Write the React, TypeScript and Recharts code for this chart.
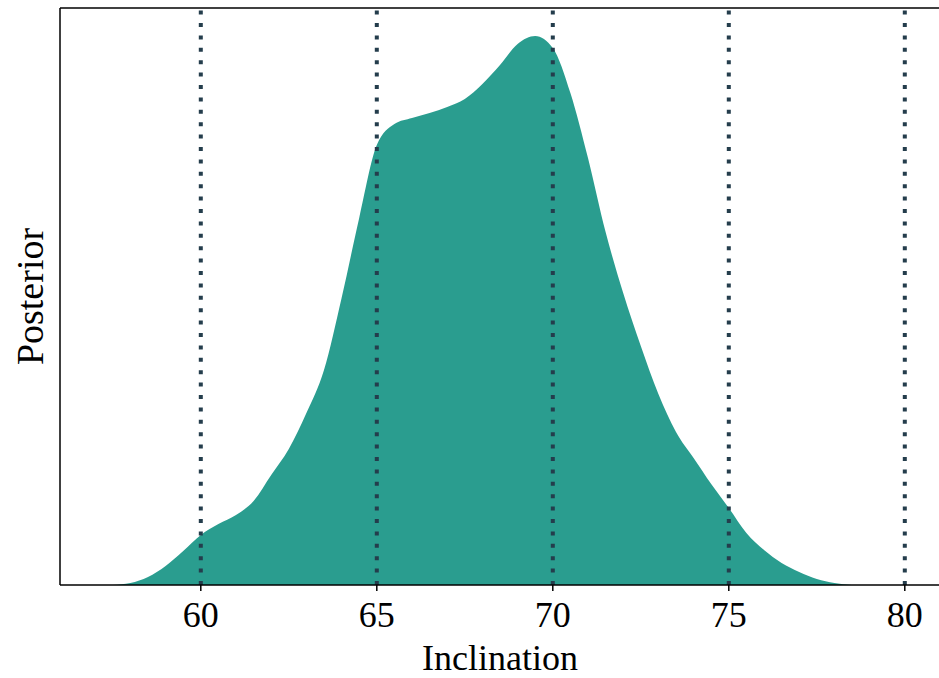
import { AreaChart, Area, XAxis, YAxis, ReferenceLine } from 'recharts'

// inclination grid (deg) and posterior height (arbitrary units)
const inclination = [
  57.5, 58, 58.5, 59, 59.5, 60, 60.5, 61, 61.5, 62, 62.5, 63, 63.5, 64, 64.5,
  65, 65.5, 66, 66.5, 67, 67.5, 68, 68.5, 69, 69.5, 70, 70.5, 71, 71.5, 72,
  72.5, 73, 73.5, 74, 74.5, 75, 75.5, 76, 76.5, 77, 77.5, 78, 78.5
]
const posterior = [
  0, 2, 8, 19, 34, 50, 61, 70, 84, 110, 136, 172, 215, 287, 367,
  440, 461, 467, 472, 478, 486, 501, 520, 541, 549, 537, 492, 427, 353, 292,
  239, 191, 153, 127, 101, 77, 52, 35, 22, 13, 6, 2, 0
]
const xTicks = [60, 65, 70, 75, 80]
const yMax = 577

const data = inclination.map((x, i) => ({ x, p: posterior[i] }))

const FONT = '"Liberation Serif", "DejaVu Serif", serif'
const TEAL = '#2a9d8f'
const DOTS = '#243d4c'

export default function App() {
  return (
    <div style={{ position: 'absolute', left: 0, top: 0, width: 939, height: 678, overflow: 'hidden', background: '#fff' }}>
      <AreaChart
        width={945}
        height={678}
        data={data}
        margin={{ top: 8, right: 5, bottom: 0, left: 0 }}
        style={{ fontFamily: FONT }}
      >
        <XAxis
          dataKey='x'
          type='number'
          domain={[56, 81]}
          ticks={xTicks}
          allowDataOverflow
          height={93}
          tickSize={6}
          tickMargin={10}
          axisLine={{ stroke: '#000', strokeWidth: 1.5 }}
          tickLine={{ stroke: '#000', strokeWidth: 1.5 }}
          tick={{ fill: '#000', fontSize: 36, fontFamily: FONT }}
          label={{ value: 'Inclination', position: 'insideBottom', offset: 8, fill: '#000', fontSize: 36, fontFamily: FONT }}
        />
        <YAxis
          type='number'
          domain={[0, yMax]}
          width={60}
          tick={false}
          tickLine={false}
          axisLine={{ stroke: '#000', strokeWidth: 1.5 }}
          label={{ value: 'Posterior', angle: -90, position: 'center', fill: '#000', fontSize: 38, fontFamily: FONT }}
        />
        <Area
          dataKey='p'
          type='monotone'
          fill={TEAL}
          fillOpacity={1}
          stroke='none'
          isAnimationActive={false}
        />
        <ReferenceLine y={yMax} stroke='#000' strokeWidth={1.5} />
        {xTicks.map((t) => (
          <ReferenceLine
            key={t}
            x={t}
            stroke={DOTS}
            strokeWidth={4}
            strokeDasharray='4 8.4'
          />
        ))}
      </AreaChart>
    </div>
  )
}
